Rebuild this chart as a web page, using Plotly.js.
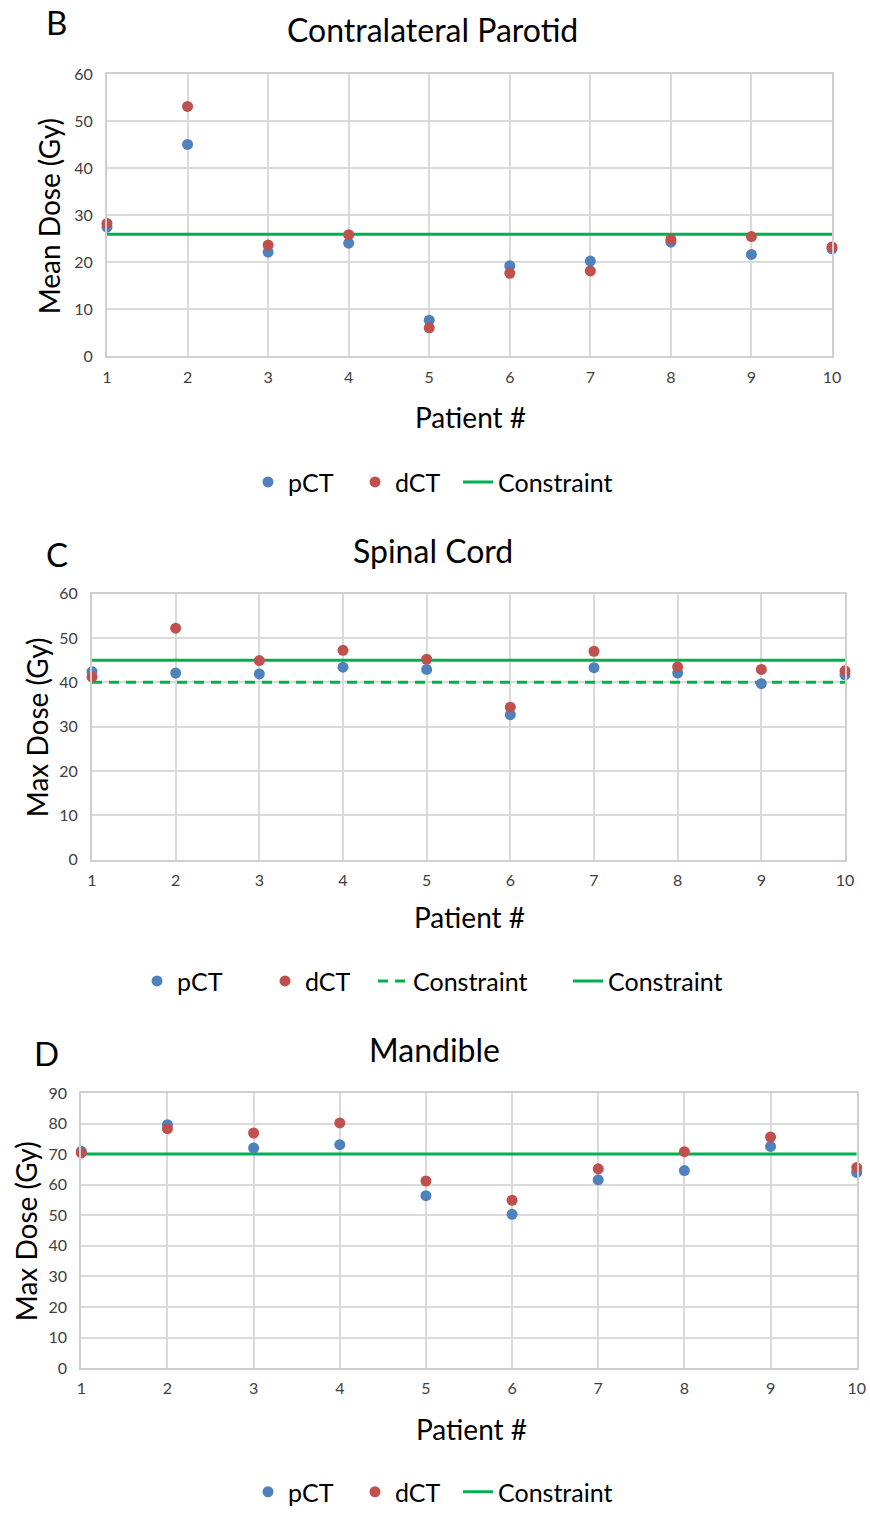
<!DOCTYPE html>
<html><head><meta charset="utf-8">
<script src="https://cdn.plot.ly/plotly-3.0.1.min.js"></script>
<style>html,body{margin:0;padding:0;background:#fff}</style>
</head><body><div id="chart" style="width:870px;height:1515px"></div>
<script>
const patients = [1,2,3,4,5,6,7,8,9,10];
const parotidPCT = [27.5,45.1,22.2,24.1,7.7,19.3,20.3,24.3,21.7,22.9];
const parotidDCT = [28.3,53.2,23.7,25.9,6.1,17.7,18.2,24.9,25.5,23.3];
const parotidConstraint = 26;
const cordPCT = [42.4,42.1,41.9,43.4,42.9,32.7,43.3,42.1,39.7,41.7];
const cordDCT = [41.2,52.2,44.9,47.2,45.2,34.4,47.0,43.5,42.9,42.6];
const cordConstraintDashed = 40;
const cordConstraintSolid = 45;
const mandPCT = [70.9,79.6,72.0,73.1,56.4,50.3,61.6,64.6,72.5,64.0];
const mandDCT = [70.4,78.3,76.9,80.2,61.2,54.9,65.2,70.8,75.6,65.6];
const mandConstraint = 70;

const panelTitles = ['Contralateral Parotid','Spinal Cord','Mandible'];
const panelLetters = ['B','C','D'];
const yTitles = ['Mean Dose (Gy)','Max Dose (Gy)','Max Dose (Gy)'];
const xTitle = 'Patient #';

const BLUE = '#4F81BD', RED = '#C0504D', GREEN = '#00B050';
const FONT = 'Lato, "Open Sans", sans-serif';
const H = 1515, W = 870;
const py = p => 1 - p / H;
const px = p => p / W;

function pts(x, y, name, color, xa, ya, lg, rank, lw) {
  const t = {x, y, name, type:'scatter', mode:'markers', xaxis:xa, yaxis:ya, legend:lg,
    legendrank:rank, cliponaxis:false, hoverinfo:'skip',
    marker:{color, size:11}};
  if (lw) t.legendwidth = lw;
  return t;
}
function cline(val, name, dash, xa, ya, lg, rank, lw) {
  const t = {x:patients, y:patients.map(() => val), name, type:'scatter', mode:'lines',
    xaxis:xa, yaxis:ya, legend:lg, legendrank:rank, hoverinfo:'skip',
    line:{color:GREEN, width:3, dash}};
  if (lw) t.legendwidth = lw;
  return t;
}

const data = [
  cline(parotidConstraint,'Constraint','solid','x','y','legend',3),
  pts(patients, parotidPCT,'pCT',BLUE,'x','y','legend',1,62),
  pts(patients, parotidDCT,'dCT',RED,'x','y','legend',2,58),
  cline(cordConstraintDashed,'Constraint','10px,7px','x2','y2','legend2',3,150),
  cline(cordConstraintSolid,'Constraint','solid','x2','y2','legend2',4),
  pts(patients, cordPCT,'pCT',BLUE,'x2','y2','legend2',1,83),
  pts(patients, cordDCT,'dCT',RED,'x2','y2','legend2',2,63),
  cline(mandConstraint,'Constraint','solid','x3','y3','legend3',3),
  pts(patients, mandPCT,'pCT',BLUE,'x3','y3','legend3',1,62),
  pts(patients, mandDCT,'dCT',RED,'x3','y3','legend3',2,58)
];

function xax(domain, anchor) {
  return {domain, anchor, range:[1,10], dtick:1, tick0:1, showgrid:true, gridcolor:'#DADADA', gridwidth:2,
    zeroline:false, showline:true, linecolor:'#CFCFCF', linewidth:2, mirror:true,
    ticks:'outside', ticklen:5, tickcolor:'rgba(0,0,0,0)',
    tickfont:{family:FONT, size:16, color:'#404040'}, fixedrange:true};
}
function yax(domain, anchor, max) {
  return {domain, anchor, range:[0,max], dtick:10, showgrid:true, gridcolor:'#DADADA', gridwidth:2,
    zeroline:false, showline:true, linecolor:'#CFCFCF', linewidth:2, mirror:true,
    ticks:'outside', ticklen:9, tickcolor:'rgba(0,0,0,0)',
    tickfont:{family:FONT, size:16, color:'#404040'}, fixedrange:true};
}
function leg(x, y) {
  return {orientation:'h', x, xanchor:'left', y, yanchor:'middle', xref:'paper', yref:'paper',
    font:{family:FONT, size:25, color:'#000'}, bgcolor:'rgba(0,0,0,0)', itemwidth:30, traceorder:'normal'};
}
function ann(text, x, y, size, angle) {
  return {text, x:px(x), y:py(y), xref:'paper', yref:'paper', showarrow:false,
    xanchor:'center', yanchor:'middle', textangle:angle||0,
    font:{family:FONT, size, color:'#000'}};
}

const layout = {
  width:W, height:H, margin:{l:0,r:0,t:0,b:0}, paper_bgcolor:'#fff', plot_bgcolor:'#fff',
  showlegend:true,
  xaxis: xax([px(107), px(832)], 'y'),
  yaxis: yax([py(359.3), py(75)], 'x', 60),
  xaxis2: xax([px(92), px(845)], 'y2'),
  yaxis2: yax([py(866.7), py(598.3)], 'x2', 60),
  xaxis3: xax([px(81.3), px(856.7)], 'y3'),
  yaxis3: yax([py(1379), py(1101.7)], 'x3', 90),
  legend: leg(px(248), py(486)),
  legend2: leg(px(137), py(989)),
  legend3: leg(px(248), py(1504)),
  annotations: [
    ann(panelTitles[0], 432, 30, 32),
    ann(panelTitles[1], 433, 555, 32),
    ann(panelTitles[2], 434, 1058, 32),
    ann(panelLetters[0], 56, 22, 33),
    ann(panelLetters[1], 57, 558, 33),
    ann(panelLetters[2], 46, 1061, 33),
    ann(yTitles[0], 49, 218, 28, -90),
    ann(yTitles[1], 37, 733, 28, -90),
    ann(yTitles[2], 26, 1241, 28, -90),
    ann(xTitle, 470, 420, 28),
    ann(xTitle, 469, 924, 28),
    ann(xTitle, 471, 1440, 28)
  ]
};

Plotly.newPlot('chart', data, layout, {displayModeBar:false, staticPlot:true});
</script></body></html>
